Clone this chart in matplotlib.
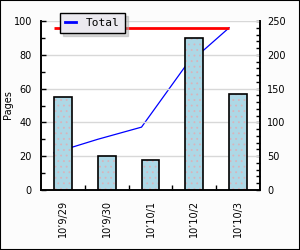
import matplotlib
matplotlib.use("Agg")
import matplotlib.pyplot as plt
from matplotlib.patches import Rectangle
from matplotlib.lines import Line2D

days = ["10’9/29", "10’9/30", "10’10/1", "10’10/2", "10’10/3"]
pages = [55, 20, 18, 90, 57]
total = [55, 75, 93, 183, 240]

plt.rcParams["font.family"] = "DejaVu Sans"
plt.rcParams["font.size"] = 7
plt.rcParams["hatch.linewidth"] = 0.6

fig = plt.figure(figsize=(3, 2.5), dpi=100, facecolor="#fcfcfc")
ax2 = fig.add_axes([41 / 300, 1 - 190 / 250, 219 / 300, 169 / 250])
ax = ax2.twinx()
# bars above the line
ax.set_zorder(ax2.get_zorder() + 1)
ax.patch.set_visible(False)
ax2.set_facecolor("white")

ax.yaxis.tick_left()
ax.yaxis.set_label_position("left")
ax2.yaxis.tick_right()

x = range(len(days))
bars = ax.bar(x, pages, width=0.41, color="#add8e6", edgecolor="#d8b4bc",
              hatch="...", linewidth=0, zorder=2)
ax.bar(x, pages, width=0.41, facecolor="none", edgecolor="black",
       linewidth=1.2, zorder=3)

line_x = [b.get_x() for b in bars]
ax2.plot(line_x, total, color="blue", linewidth=0.9)
ax2.hlines(max(total), line_x[0], line_x[-1], color="red", linewidth=2)

ax.set_ylim(0, 100)
ax2.set_ylim(0, 250)
ax.set_xlim(-0.5, len(days) - 0.5)

ax.set_yticks(range(0, 101, 20))
ax.set_yticks(range(0, 101, 10), minor=True)
ax2.set_yticks(range(0, 251, 50))
ax2.set_yticks(range(0, 251, 10), minor=True)
ax.yaxis.grid(True, color="#d8d8d8", linewidth=1)
ax.set_axisbelow(True)

ax2.set_xticks(list(x))
ax2.set_xticklabels(days, rotation=90)
ax2.set_xticks([i + 0.5 for i in range(len(days) - 1)], minor=True)
ax2.tick_params(axis="x", which="major", length=0, pad=7)
ax2.tick_params(axis="x", which="minor", direction="in", length=3.5, width=1)
ax.tick_params(axis="x", bottom=False, labelbottom=False, which="both")

ax.tick_params(axis="y", which="major", direction="in", length=3.6, width=1, pad=6.5)
ax.tick_params(axis="y", which="minor", direction="in", length=2.6, width=1)
ax2.tick_params(axis="y", which="major", direction="in", length=3, width=1, pad=5)
ax2.tick_params(axis="y", which="minor", direction="in", length=2.6, width=1)

for a in (ax, ax2):
    a.spines["top"].set_visible(False)
    for s in ("left", "right", "bottom"):
        a.spines[s].set_linewidth(1.2)

fig.text(8 / 300, 1 - 105 / 250, "Pages", rotation=90, ha="center", va="center")

handle = Line2D([], [], color="blue", linewidth=2)
leg = ax.legend([handle], ["Total"], loc="upper left",
                bbox_to_anchor=(60 / 300, 1 - 13 / 250), bbox_transform=fig.transFigure,
                fancybox=False, shadow={"color": "#b0b0b0"}, framealpha=1,
                facecolor="#ebe9ef", edgecolor="black", handlelength=1.0,
                borderpad=0.45, handletextpad=0.9, borderaxespad=0,
                prop={"family": "DejaVu Sans Mono", "size": 8})
leg.get_frame().set_linewidth(1)

fig.patches.append(Rectangle((0, 0), 1, 1, transform=fig.transFigure, fill=False,
                             edgecolor="black", linewidth=1.5))

fig.savefig("out.png", dpi=100, facecolor=fig.get_facecolor())
